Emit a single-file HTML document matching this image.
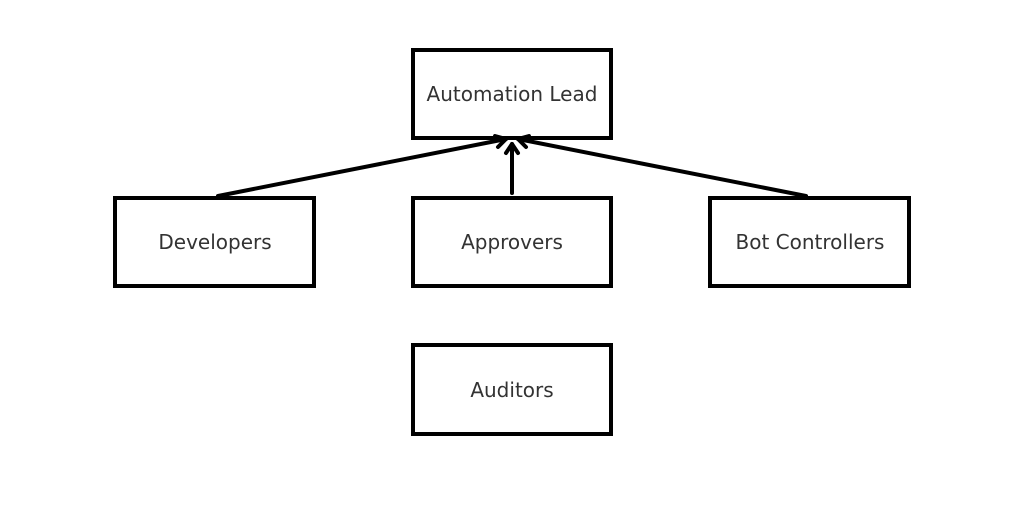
<!DOCTYPE html>
<html><head><style>
html,body{margin:0;padding:0;background:#fff;width:1023px;height:524px;overflow:hidden}
</style></head><body>
<svg width="1023" height="524" xmlns="http://www.w3.org/2000/svg" font-family="DejaVu Sans, Liberation Sans, sans-serif" font-size="20" fill="#333">
<g fill="none" stroke="#000" stroke-width="4">
<rect x="413" y="50" width="198" height="88"/>
<rect x="115" y="198" width="199" height="88"/>
<rect x="413" y="198" width="198" height="88"/>
<rect x="710" y="198" width="199" height="88"/>
<rect x="413" y="345" width="198" height="89"/>
<g stroke-linecap="round" stroke-linejoin="round">
<line x1="218" y1="196" x2="506" y2="139"/>
<polyline points="495,136 506,139 498,147"/>
<line x1="512" y1="193" x2="512" y2="144"/>
<polyline points="506,153 512,144 518,153"/>
<line x1="806" y1="196" x2="518" y2="139"/>
<polyline points="529,136 518,139 526,147"/>
</g>
</g>
<g text-anchor="middle">
<text x="512" y="101">Automation Lead</text>
<text x="215" y="249">Developers</text>
<text x="512" y="249">Approvers</text>
<text x="810" y="249">Bot Controllers</text>
<text x="512" y="397">Auditors</text>
</g>
</svg>
</body></html>
